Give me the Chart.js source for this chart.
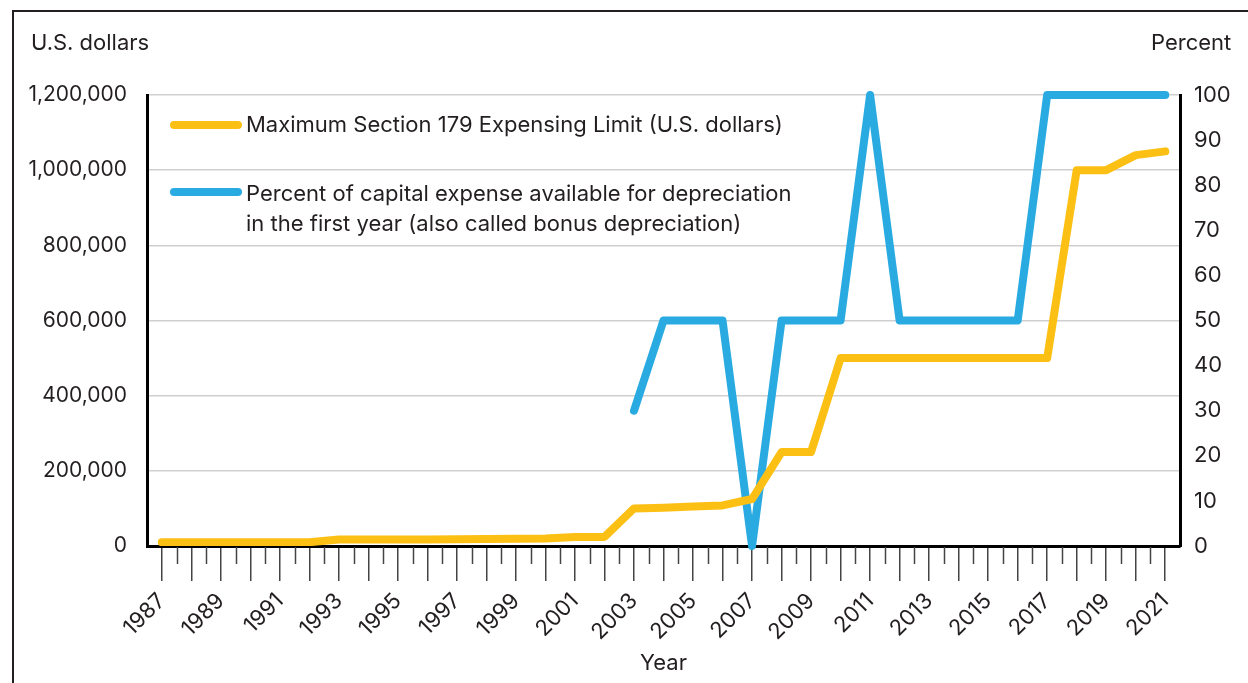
<!DOCTYPE html>
<html lang="en">
<head>
<meta charset="UTF-8">
<title>Section 179 and bonus depreciation</title>
<script src="https://cdn.jsdelivr.net/npm/chart.js"></script>
<style>
  html, body { margin: 0; padding: 0; background: #fff; }
  body { width: 1248px; height: 683px; overflow: hidden; position: relative;
         font-family: Inter, "Noto Sans", sans-serif; color: #231f20; }
  #wrap { position: absolute; left: 0; top: 0; width: 1248px; height: 683px; }
  .frame { position: absolute; left: 12px; top: 10px; width: 1300px; height: 700px;
           border-top: 2px solid #231f20; border-left: 2px solid #231f20; }
  .lbl { position: absolute; font-size: 22px; line-height: 28px; white-space: nowrap; }
  .key { position: absolute; width: 72px; height: 8px; border-radius: 4px; }
</style>
</head>
<body>
<div class="frame"></div>
<div id="wrap"><canvas id="myChart"></canvas></div>
<div class="lbl" style="left:31px; top:28px;">U.S. dollars</div>
<div class="lbl" style="left:1151px; top:28px;">Percent</div>

<div class="key" style="left:170px; top:121px; background:#fcc015;"></div>
<div class="lbl" style="left:246px; top:110px;">Maximum Section 179 Expensing Limit (U.S. dollars)</div>
<div class="key" style="left:170px; top:188px; background:#29abe2;"></div>
<div class="lbl" style="left:246px; top:178px; line-height:30px;">Percent of capital expense available for depreciation<br>in the first year (also called bonus depreciation)</div>

<script>
// years 1987 - 2021
let years = [];
for (let y = 1987; y <= 2021; y++) years.push(y);

// Maximum Section 179 expensing limit, U.S. dollars
let limit = [
  10000, 10000, 10000, 10000, 10000, 10000,      // 1987-1992
  17500, 17500, 17500, 17500,                    // 1993-1996
  18000, 18500, 19000, 20000,                    // 1997-2000
  24000, 24000,                                  // 2001-2002
  100000, 102000, 105000, 108000, 125000,        // 2003-2007
  250000, 250000,                                // 2008-2009
  500000, 500000, 500000, 500000, 500000, 500000, 500000, 500000, // 2010-2017
  1000000, 1000000, 1040000, 1050000             // 2018-2021
];

// bonus depreciation, percent (no data before 2003)
let bonus = [
  null, null, null, null, null, null, null, null,
  null, null, null, null, null, null, null, null, // 1987-2002
  30, 50, 50, 50, 0, 50, 50, 50, 100,             // 2003-2011
  50, 50, 50, 50, 50,                             // 2012-2016
  100, 100, 100, 100, 100                         // 2017-2021
];

let leftTicks = [0, 200000, 400000, 600000, 800000, 1000000, 1200000];
let rightTicks = [0, 10, 20, 30, 40, 50, 60, 70, 80, 90, 100];

const FAM = 'Inter, "Noto Sans", sans-serif';
const TXT = '#231f20';

function toPts(arr) {
  return years.map(function (y, i) { return { x: y, y: arr[i] }; });
}

// short ticks half way between the years
const halfTicks = {
  id: 'halfTicks',
  afterDraw: function (chart) {
    const xs = chart.scales.x;
    const ctx = chart.ctx;
    const top = chart.chartArea.bottom + 1;
    ctx.save();
    ctx.strokeStyle = '#444';
    ctx.lineWidth = 1.5;
    for (let i = 0; i < years.length - 1; i++) {
      const px = Math.round(xs.getPixelForValue(years[i] + 0.5)) + 0.5;
      ctx.beginPath();
      ctx.moveTo(px, top);
      ctx.lineTo(px, top + 17);
      ctx.stroke();
    }
    ctx.restore();
  }
};

new Chart(document.getElementById('myChart'), {
  type: 'line',
  data: {
    datasets: [{
      label: 'Maximum Section 179 Expensing Limit (U.S. dollars)',
      data: toPts(limit),
      yAxisID: 'y',
      borderColor: '#fcc015',
      borderWidth: 8,
      borderCapStyle: 'round',
      borderJoinStyle: 'round',
      pointRadius: 0,
      tension: 0
    }, {
      label: 'Percent of capital expense available for depreciation in the first year (also called bonus depreciation)',
      data: toPts(bonus),
      yAxisID: 'y1',
      borderColor: '#29abe2',
      borderWidth: 8,
      borderCapStyle: 'round',
      borderJoinStyle: 'round',
      pointRadius: 0,
      spanGaps: false,
      tension: 0,
      clip: 8
    }]
  },
  options: {
    responsive: true,
    maintainAspectRatio: false,
    animation: false,
    layout: { padding: { top: 95, left: 0, right: 0, bottom: 0 } },
    plugins: { legend: { display: false }, tooltip: { enabled: false } },
    scales: {
      x: {
        type: 'linear',
        min: 1986.5,
        max: 2021.5,
        afterBuildTicks: function (axis) {
          axis.ticks = years.map(function (v) { return { value: v }; });
        },
        afterFit: function (axis) { axis.height = 683 - 546; },
        border: { color: '#000', width: 3 },
        grid: { drawOnChartArea: false, tickLength: 35, color: '#444', lineWidth: 1.5 },
        ticks: {
          autoSkip: false,
          minRotation: 45,
          maxRotation: 45,
          padding: 7,
          color: TXT,
          font: { family: FAM, size: 22 },
          callback: function (v) { return (v % 2 === 1) ? String(v) : ''; }
        },
        title: { display: true, text: 'Year', color: TXT, font: { family: FAM, size: 22 }, padding: { top: 0, bottom: 6 } }
      },
      y: {
        position: 'left',
        min: 0,
        max: 1200000,
        afterBuildTicks: function (axis) {
          axis.ticks = leftTicks.map(function (v) { return { value: v }; });
        },
        afterFit: function (axis) { axis.width = 147; },
        border: { color: '#000', width: 3 },
        grid: { color: '#cfcfcf', lineWidth: 1.5, drawTicks: false },
        ticks: {
          padding: 20,
          color: TXT,
          font: { family: FAM, size: 21 },
          callback: function (v) { return v.toLocaleString('en-US'); }
        }
      },
      y1: {
        position: 'right',
        min: 0,
        max: 100,
        afterBuildTicks: function (axis) {
          axis.ticks = rightTicks.map(function (v) { return { value: v }; });
        },
        afterFit: function (axis) { axis.width = 1248 - 1180; },
        border: { color: '#000', width: 3 },
        grid: { drawOnChartArea: false, drawTicks: false },
        ticks: { padding: 14, color: TXT, font: { family: FAM, size: 22 } }
      }
    }
  },
  plugins: [halfTicks]
});
</script>
</body>
</html>
